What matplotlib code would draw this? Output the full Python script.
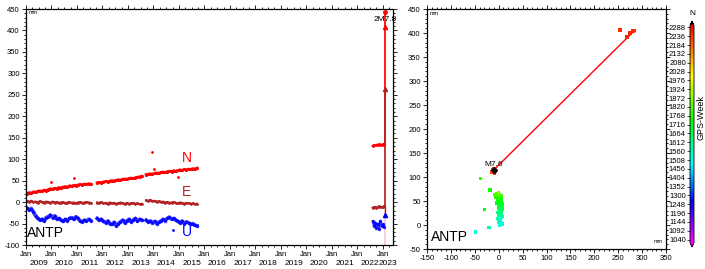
#!/usr/bin/env python3
# -*- coding: utf-8 -*-
"""
GNSS station ANTP: NEU time series (left) and horizontal track (right)
"""
import numpy as np
import matplotlib
matplotlib.use("Agg")
import matplotlib.pyplot as plt
from matplotlib.colors import LinearSegmentedColormap, Normalize
from matplotlib.ticker import MultipleLocator
import matplotlib.transforms as mtransforms

plt.rcParams["font.family"] = ["Liberation Sans", "DejaVu Sans"]
plt.rcParams["axes.unicode_minus"] = False

STATION = "ANTP"

# ---- left panel: monthly NEU values (mm), three data segments ----
seg_t0 = [2009.04, 2011.79, 2013.71]
n_seg1 = [20, 22, 21, 24, 23, 25, 26, 25, 28, 27, 29, 31, 30, 32, 31, 34,
          33, 35, 36, 35, 38, 37, 39, 38, 40, 41, 40, 42, 41, 43, 42]
n_seg2 = [45, 46, 45, 47, 48, 47, 49, 50, 49, 51, 52, 51, 53, 54, 53, 55,
          56, 55, 57, 58, 59, 60]
n_seg3 = [64, 65, 66, 65, 67, 68, 67, 69, 70, 69, 71, 72, 71, 73, 72, 74,
          75, 74, 76, 75, 77, 76, 78, 77, 79]
e_seg1 = [2, 1, 3, 0, 1, -1, 2, 0, -1, 1, 0, -2, 1, -1, 0, -2, -1, 0, -3,
          -1, 0, -2, -1, -3, -1, 0, -2, -1, 0, -1, -2]
e_seg2 = [-1, -2, 0, -3, -2, -4, -1, -3, -2, -4, -3, -1, -3, -5, -2, -4,
          -3, -2, -4, -3, -5, -4]
e_seg3 = [4, 3, 5, 2, 3, 1, 2, 0, 1, -1, 0, -2, -1, 0, -2, -3, -1, -2, -4,
          -2, -3, -4, -3, -5, -4]
u_seg1 = [-14, -18, -15, -22, -32, -38, -42, -40, -44, -36, -34, -30, -36,
          -32, -40, -38, -42, -45, -40, -43, -38, -36, -40, -34, -38, -44,
          -46, -42, -44, -40, -43]
u_seg2 = [-38, -42, -40, -45, -48, -44, -50, -52, -47, -55, -50, -46, -42,
          -48, -44, -40, -46, -42, -38, -44, -40, -42]
u_seg3 = [-42, -46, -44, -48, -45, -50, -47, -44, -40, -43, -38, -35, -40,
          -38, -42, -45, -48, -44, -50, -46, -48, -52, -50, -54, -55]

# outliers (decimal year, mm)
n_out_t = [2010.00, 2010.88, 2013.93, 2014.03, 2014.97]
n_out_v = [47, 55, 117, 78, 59]
u_out_t = [2014.78]
u_out_v = [-65]

# 2022 segment before the earthquake
t22 = [2022.60, 2022.65, 2022.70, 2022.75, 2022.80, 2022.85, 2022.90,
       2022.95, 2023.00, 2023.05]
n22 = [131, 133, 132, 134, 133, 135, 134, 133, 135, 134]
e22 = [-13, -12, -11, -13, -12, -10, -11, -12, -11, -10]
u22 = [-45, -55, -48, -60, -50, -62, -44, -56, -52, -58]

# post-earthquake values
t_eq = 2023.10
n_post = [409, 443]
e_post = [263]
u_post = [-30]
eq_label = "2M7.8"

# ---- right panel: horizontal positions (mm) coloured by GPS week ----
pre_e = [2, 5, -1, 7, 3, 0, 6, 4, -3, 8, 1, 5, 3, -2, 6, 2, 4, 8, 0, 5,
         3, 7, -1, 4, 6, 2, -4, 5, 1, 3, 7, 0, -2, 4, 6, -6, 2, 5, -3, 1,
         3, -8, 4, 0, 6, -5, 2, -1]
pre_n = [0, 4, 8, 2, 12, 6, 16, 10, 14, 18, 20, 24, 22, 26, 28, 30, 27, 32,
         34, 36, 33, 38, 40, 42, 39, 44, 46, 41, 48, 50, 45, 52, 54, 49, 56,
         58, 53, 60, 55, 62, 57, 64, 59, 61, 52, 66, 63, 68]
pre_w = [1513, 1520, 1528, 1516, 1540, 1532, 1556, 1548, 1562, 1575, 1585,
         1600, 1592, 1612, 1620, 1630, 1625, 1642, 1650, 1660, 1648, 1672,
         1680, 1690, 1676, 1700, 1710, 1695, 1722, 1730, 1715, 1742, 1752,
         1738, 1765, 1775, 1760, 1788, 1770, 1800, 1782, 1815, 1795, 1808,
         1750, 1835, 1820, 1860]
out_e = [-48, -20, -30, -18, -38]
out_n = [-15, -5, 32, 73, 97]
out_w = [1530, 1560, 1700, 1760, 1790]
y22_e = [-14, -12, -9, -11, -7, -13, -10, -8]
y22_n = [110, 114, 108, 118, 112, 116, 111, 113]
y22_w = [2210, 2218, 2225, 2230, 2236, 2240, 2244, 2247]
post_e = [254, 268, 275, 281, 284]
post_n = [406, 392, 400, 404, 405]
post_w = [2250, 2251, 2252, 2253, 2254]
eq_pos = (-10, 115)
eq_label_r = "M7.6"

cbar_ticks = list(range(1040, 2289, 52))

N_COL = "#ff0000"
E_COL = "#b22222"
U_COL = "#0000ff"


def seg_times(t0, n):
    return t0 + np.arange(n) / 12.0


def style_axes(ax):
    for s in ax.spines.values():
        s.set_linewidth(0.9)
    ax.tick_params(which="both", direction="out", top=True, right=True,
                   labelsize=5.5, width=0.6, pad=1.5)
    ax.tick_params(which="major", length=3)
    ax.tick_params(which="minor", length=1.5)


def main():
    fig = plt.figure(figsize=(7.05, 2.69), dpi=100)

    # ---------------- left: time series ----------------
    ax = fig.add_axes([26 / 705, 1 - 245 / 269, 367 / 705, 236 / 269])
    ax.axvline(t_eq, color="#f6c8c8", lw=1.2, zorder=0)

    segs = [(n_seg1, e_seg1, u_seg1), (n_seg2, e_seg2, u_seg2),
            (n_seg3, e_seg3, u_seg3)]
    for t0, (nv, ev, uv) in zip(seg_t0, segs):
        t = seg_times(t0, len(nv))
        ax.plot(t, uv, color=U_COL, lw=2.6, marker=".", ms=3, alpha=0.75)
        ax.plot(t, ev, color=E_COL, lw=1.6, marker=".", ms=2)
        ax.plot(t, nv, color=N_COL, lw=2.0, marker=".", ms=2.5)
    ax.plot(n_out_t, n_out_v, ".", color=N_COL, ms=2)
    ax.plot(u_out_t, u_out_v, ".", color=U_COL, ms=2)

    ax.plot(t22, u22, color=U_COL, lw=1.6, marker=".", ms=3, alpha=0.8)
    # jumps at the earthquake
    ax.plot([t22[-1], t_eq, t_eq], [n22[-1], n22[-1], n_post[-1]],
            color=N_COL, lw=1.2)
    ax.plot([t22[-1], t_eq, t_eq], [e22[-1], e22[-1], e_post[-1]],
            color=E_COL, lw=1.2)
    ax.plot([t_eq, t_eq], [u_post[0], e22[-1]], color=E_COL, lw=1.0)
    ax.plot(t22, e22, color=E_COL, lw=1.5, marker=".", ms=2)
    ax.plot(t22, n22, color=N_COL, lw=1.5, marker=".", ms=2)
    ax.plot([t_eq], [n_post[0]], "^", color=N_COL, ms=3)
    ax.plot([t_eq], [n_post[1]], "o", color=N_COL, ms=2.5)
    ax.plot([t_eq], e_post, "^", color=E_COL, ms=3)
    ax.plot([t_eq], u_post, "^", color=U_COL, ms=3)
    ax.text(t_eq, 425, eq_label, fontsize=6, ha="center", va="center")

    ax.text(2015.3, 103, "N", color=N_COL, fontsize=10, ha="center",
            va="center")
    ax.text(2015.3, 24, "E", color=E_COL, fontsize=10, ha="center",
            va="center")
    ax.text(2015.3, -70, "U", color=U_COL, fontsize=10, ha="center",
            va="center")
    ax.text(0.003, 0.02, STATION, transform=ax.transAxes, fontsize=10,
            ha="left", va="bottom")
    ax.text(0.006, 0.995, "mm", transform=ax.transAxes, fontsize=4,
            ha="left", va="top")

    x0, x1 = 2009.0, 2023.4
    ax.set_xlim(x0, x1)
    ax.set_ylim(-100, 450)
    ax.yaxis.set_major_locator(MultipleLocator(50))
    ax.yaxis.set_minor_locator(MultipleLocator(10))
    years = list(range(2009, 2024))
    ax.set_xticks(years)
    ax.set_xticklabels(["Jan"] * len(years))
    ax.xaxis.set_minor_locator(MultipleLocator(0.25))
    style_axes(ax)
    trans = mtransforms.blended_transform_factory(ax.transData, ax.transAxes)
    for y in years:
        xc = (y + min(y + 1, x1)) / 2
        ax.text(xc, -0.08, str(y), transform=trans, fontsize=6,
                ha="center", va="center")

    # ---------------- right: horizontal track ----------------
    cmap = LinearSegmentedColormap.from_list(
        "gmt_rainbow",
        [(0.0, "#ff00ff"), (0.187, "#0000ff"), (0.36, "#00ffff"),
         (0.563, "#00ff00"), (0.767, "#ffff00"), (1.0, "#ff0000")])
    cmap.set_over("#400000")
    cmap.set_under("#ff00ff")
    norm = Normalize(vmin=1022, vmax=2300)

    axr = fig.add_axes([427 / 705, 1 - 249 / 269, 239 / 705, 240 / 269])
    axr.plot([eq_pos[0], post_e[-1]], [eq_pos[1], post_n[-1]],
             color=N_COL, lw=1.0, zorder=1)
    kw = dict(cmap=cmap, norm=norm, s=6, marker="s", linewidths=0, zorder=2)
    axr.scatter(pre_e, pre_n, c=pre_w, **kw)
    axr.scatter(out_e, out_n, c=out_w, **kw)
    sc = axr.scatter(y22_e, y22_n, c=y22_w, **kw)
    axr.scatter(post_e, post_n, c=post_w, **kw)
    axr.plot([eq_pos[0]], [eq_pos[1]], "D", color="black", ms=3, zorder=3)
    axr.text(eq_pos[0], eq_pos[1] + 11, eq_label_r, fontsize=6,
             ha="center", va="center")
    axr.text(0.015, 0.02, STATION, transform=axr.transAxes, fontsize=10,
             ha="left", va="bottom")
    axr.text(0.012, 0.99, "mm", transform=axr.transAxes, fontsize=4,
             ha="left", va="top")
    axr.text(0.985, 0.02, "mm", transform=axr.transAxes, fontsize=4,
             ha="right", va="bottom")
    axr.set_xlim(-150, 350)
    axr.set_ylim(-50, 450)
    axr.xaxis.set_major_locator(MultipleLocator(50))
    axr.xaxis.set_minor_locator(MultipleLocator(10))
    axr.yaxis.set_major_locator(MultipleLocator(50))
    axr.yaxis.set_minor_locator(MultipleLocator(10))
    style_axes(axr)

    # colorbar with labels on the left
    cax = fig.add_axes([690 / 705, 1 - 247 / 269, 4 / 705, 226 / 269])
    cb = fig.colorbar(sc, cax=cax, extend="both", extendfrac=0.02,
                      ticks=cbar_ticks)
    cb.outline.set_linewidth(0.6)
    cax.yaxis.set_ticks_position("left")
    cax.yaxis.set_label_position("left")
    cax.tick_params(labelsize=5.5, length=2, width=0.5, pad=1)
    fig.text(692 / 705, 1 - 14 / 269, "N", fontsize=6, ha="center",
             va="center")
    fig.text(701 / 705, 1 - 118 / 269, "GPS-Week", fontsize=6.5,
             rotation=90, ha="center", va="center")

    fig.savefig("out.png", dpi=100)
    plt.close(fig)
    return 0


if __name__ == "__main__":
    raise SystemExit(main())
